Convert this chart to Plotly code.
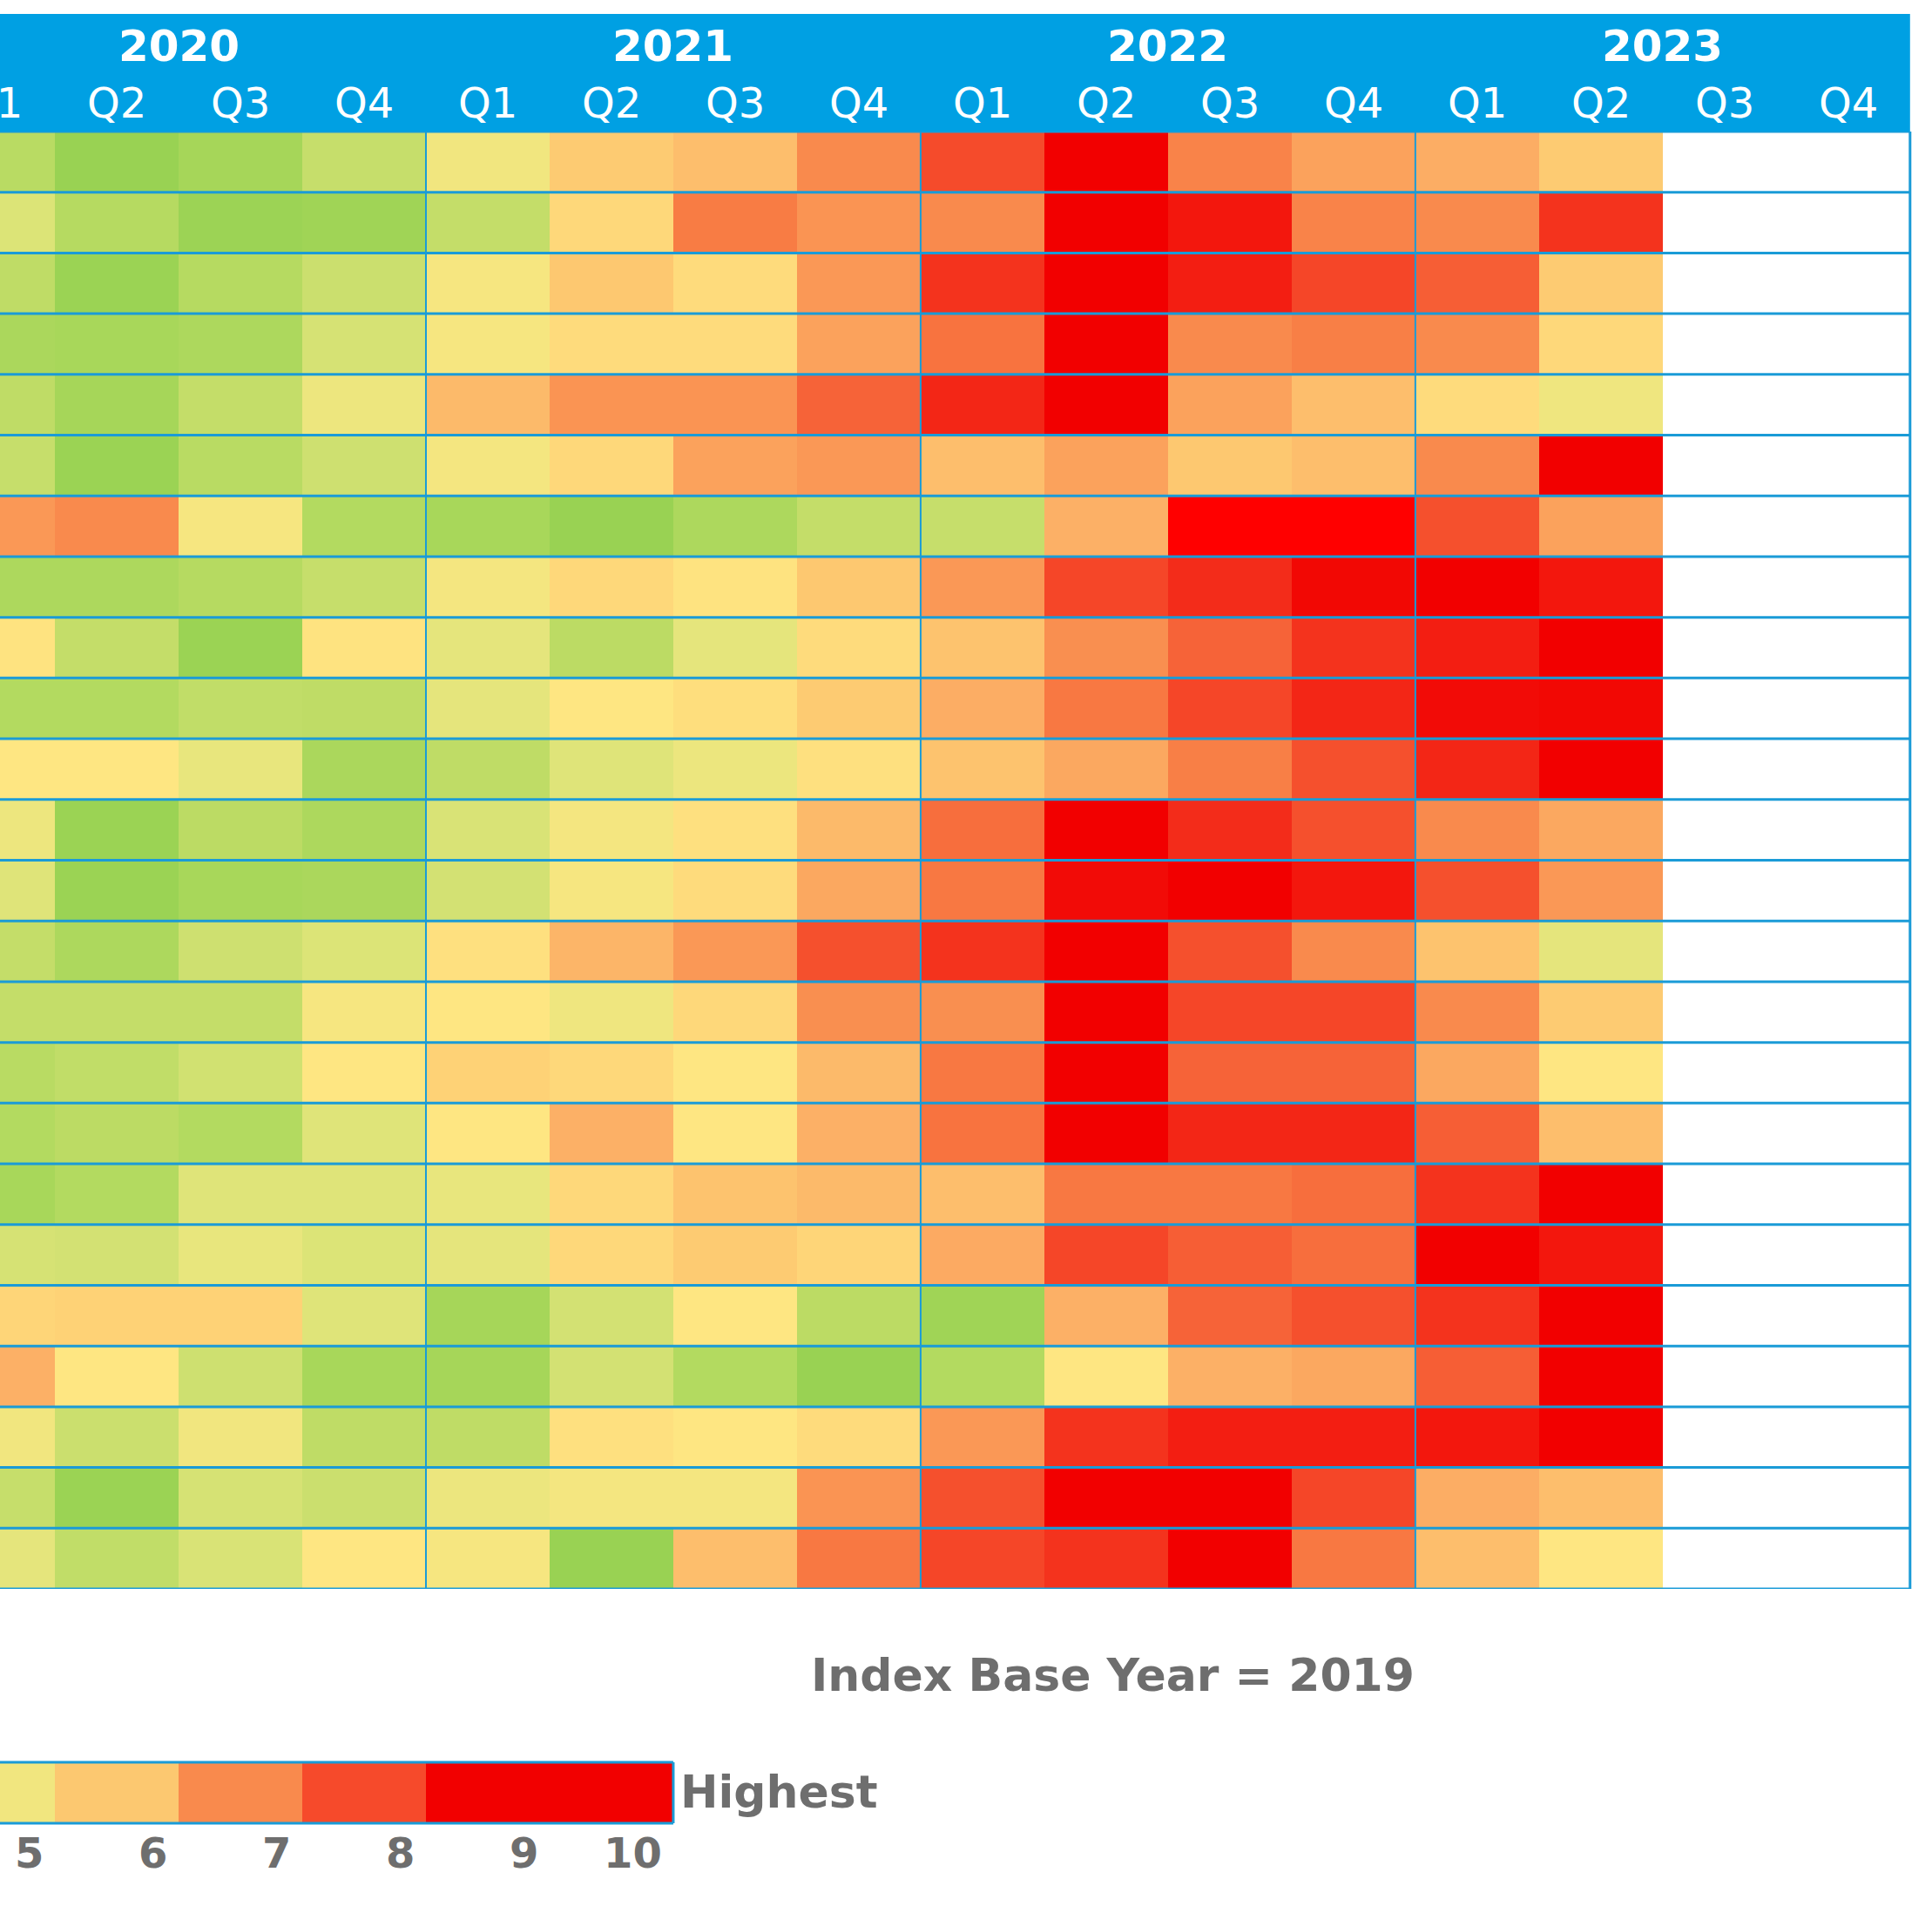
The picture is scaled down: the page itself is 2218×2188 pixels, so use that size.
import plotly.graph_objects as go

years = ["2020", "2021", "2022", "2023"]
quarters = ["Q1", "Q2", "Q3", "Q4"] * 4
col_idx = list(range(16))
row_idx = list(range(24))

# Scores per row (2020 Q1 ... 2023 Q2); 2023 Q3/Q4 not yet available
rows = [
    [2.3, 1.2, 1.6, 2.8, 4.5, 5.9, 6.2, 7.5, 8.9, 10, 7.7, 7.0, 6.6, 5.9],
    [3.6, 2.2, 1.3, 1.4, 2.7, 5.5, 7.9, 7.3, 7.5, 10, 9.7, 7.7, 7.5, 9.3],
    [2.5, 1.25, 2.2, 3.0, 4.7, 6.0, 5.4, 7.2, 9.3, 10, 9.6, 9.0, 8.5, 5.9],
    [1.8, 1.7, 1.9, 3.4, 4.7, 5.4, 5.4, 7.0, 8.1, 10, 7.5, 7.8, 7.5, 5.5],
    [2.5, 1.6, 2.7, 4.3, 6.3, 7.3, 7.3, 8.4, 9.5, 10, 7.0, 6.2, 5.4, 4.4],
    [2.8, 1.25, 2.3, 3.1, 4.6, 5.5, 7.0, 7.2, 6.2, 7.0, 6.0, 6.2, 7.5, 10],
    [7.2, 7.5, 4.7, 2.1, 1.7, 1.2, 1.9, 2.7, 2.8, 6.5, 10.5, 10.5, 8.8, 7.0],
    [1.9, 1.9, 2.2, 2.8, 4.6, 5.5, 5.1, 6.0, 7.2, 9.0, 9.4, 9.9, 10, 9.7],
    [5.1, 2.7, 1.25, 5.1, 3.9, 2.4, 3.9, 5.4, 6.1, 7.4, 8.4, 9.3, 9.6, 10],
    [2.1, 2.1, 2.6, 2.5, 3.9, 5.0, 5.3, 5.9, 6.6, 8.0, 9.0, 9.5, 9.85, 9.9],
    [5.0, 5.0, 4.0, 1.8, 2.5, 3.7, 4.2, 5.2, 6.1, 6.8, 7.8, 8.8, 9.5, 10],
    [4.3, 1.25, 2.4, 1.9, 3.5, 4.6, 5.2, 6.3, 8.2, 10, 9.4, 8.8, 7.5, 6.8],
    [3.7, 1.25, 1.7, 1.8, 3.3, 4.7, 5.4, 6.8, 8.0, 9.85, 10, 9.7, 8.8, 7.2],
    [2.7, 1.9, 3.1, 3.6, 5.2, 6.4, 7.2, 8.8, 9.3, 10, 8.8, 7.5, 6.1, 3.9],
    [2.7, 2.7, 2.7, 4.7, 5.0, 4.4, 5.5, 7.4, 7.4, 10, 9.0, 9.0, 7.5, 5.9],
    [2.3, 2.6, 3.2, 5.0, 5.7, 5.5, 5.0, 6.3, 8.0, 10, 8.4, 8.4, 6.8, 5.0],
    [2.1, 2.4, 2.1, 3.7, 5.0, 6.5, 5.0, 6.5, 8.1, 10, 9.5, 9.5, 8.5, 6.2],
    [1.7, 2.1, 3.7, 3.7, 4.0, 5.5, 6.1, 6.3, 6.2, 8.0, 8.0, 8.2, 9.3, 10],
    [3.4, 3.3, 4.0, 3.6, 3.9, 5.5, 5.9, 5.6, 6.7, 9.0, 8.5, 8.2, 10, 9.7],
    [5.6, 5.7, 5.7, 3.7, 1.6, 3.3, 5.0, 2.4, 1.4, 6.5, 8.4, 8.8, 9.3, 10],
    [6.5, 5.0, 3.1, 1.7, 1.6, 3.3, 2.1, 1.2, 2.1, 5.0, 6.5, 6.8, 8.5, 10],
    [4.5, 3.0, 4.5, 2.5, 2.5, 5.2, 5.0, 5.4, 7.2, 9.3, 9.6, 9.6, 9.7, 10],
    [2.8, 1.25, 3.4, 3.0, 4.2, 4.6, 4.6, 7.3, 8.8, 10, 10, 9.0, 6.6, 6.2],
    [3.9, 2.6, 3.5, 5.0, 4.7, 1.2, 6.2, 8.0, 9.0, 9.3, 10, 8.0, 6.2, 5.0],
]
z = [r + [None, None] for r in rows]

# colour scale of the cells (value -> colour)
scale_vals = [1.0, 1.5, 2.0, 2.5, 3.0, 3.5, 4.0, 4.5, 5.0, 5.5, 6.0, 6.5,
              7.0, 7.5, 8.0, 8.5, 9.0, 9.5, 10.0, 10.5]
scale_cols = ["#92D050", "#A3D558", "#B0D95E", "#BFDC66", "#CBDF6E", "#D9E376",
              "#E8E67D", "#F1E67F", "#FEE682", "#FED87A", "#FDC870", "#FCB066",
              "#FBA25C", "#F98A4D", "#F87842", "#F65E35", "#F54628", "#F32616",
              "#F20000", "#FF0000"]
zmin, zmax = scale_vals[0], scale_vals[-1]
colorscale = [[(v - zmin) / (zmax - zmin), c] for v, c in zip(scale_vals, scale_cols)]

# legend key
legend_vals = [1, 2, 3, 4, 5, 6, 7, 8, 9, 10]
legend_cols = ["#92D050", "#B0D95E", "#CBDF6E", "#E1E47A", "#F1E67F",
               "#FCC870", "#F98A4D", "#F64A2B", "#F20000", "#F20000"]
legend_scale = [[(v - 1) / 9, c] for v, c in zip(legend_vals, legend_cols)]

LINE = "#1A9BD7"
HEAD = "#00A0E3"
GRAY = "#6E6E6E"
FONT = "DejaVu Sans"

W, H = 2218, 2188
mt, mb, ml, mr = 151, 0, 0, 11
ph = H - mt - mb
x0 = 0.056
x1 = 15.6

fig = go.Figure()
fig.add_trace(go.Heatmap(z=z, x=col_idx, y=row_idx, colorscale=colorscale,
                         zmin=zmin, zmax=zmax, showscale=False,
                         hoverinfo="skip", xaxis="x", yaxis="y"))
fig.add_trace(go.Heatmap(z=[legend_vals], x=legend_vals, y=[0], colorscale=legend_scale,
                         zmin=1, zmax=10, showscale=False, hoverinfo="skip",
                         xaxis="x2", yaxis="y2"))

main_bottom = (H - 1824) / ph
leg_y0 = (H - 2093) / ph
leg_y1 = (H - 2023) / ph


def px(xv):
    return (xv - x0) / (x1 - x0)


shapes = []
# header band
shapes.append(dict(type="rect", xref="x", yref="paper", x0=-1, x1=15.5,
                   y0=1, y1=1 + (mt - 16) / ph, fillcolor=HEAD, line=dict(width=0),
                   layer="above"))
# horizontal row lines
for k in range(25):
    shapes.append(dict(type="line", xref="x", yref="y", x0=-1, x1=15.5,
                       y0=k - 0.5, y1=k - 0.5, line=dict(color=LINE, width=3),
                       layer="above"))
# vertical year lines + right border
for xv in [3.5, 7.5, 11.5, 15.5]:
    shapes.append(dict(type="line", xref="x", yref="y", x0=xv, x1=xv,
                       y0=-0.5, y1=23.5, line=dict(color=LINE, width=2 if xv < 15 else 3),
                       layer="above"))
# legend key border
for yy in [leg_y0, leg_y1]:
    shapes.append(dict(type="line", xref="x2", yref="paper", x0=0, x1=10.5,
                       y0=yy, y1=yy, line=dict(color=LINE, width=3), layer="above"))
shapes.append(dict(type="line", xref="x2", yref="paper", x0=10.5, x1=10.5,
                   y0=leg_y0, y1=leg_y1, line=dict(color=LINE, width=3), layer="above"))

ann = []
for i, yr in enumerate(years):
    ann.append(dict(x=px(4 * i + 1.5), y=1 + (mt - 53) / ph, xref="paper", yref="paper",
                    text="<b>%s</b>" % yr, showarrow=False, xanchor="center",
                    yanchor="middle", font=dict(family=FONT, size=50, color="white")))
for c, q in zip(col_idx, quarters):
    ann.append(dict(x=px(c), y=1 + (mt - 118) / ph, xref="paper", yref="paper", text=q,
                    showarrow=False, xanchor="center", yanchor="middle",
                    font=dict(family=FONT, size=48, color="white")))
ann.append(dict(x=9.05, y=(H - 1923) / ph, xref="x", yref="paper",
                text="<b>Index Base Year = 2019</b>", showarrow=False,
                xanchor="center", yanchor="middle",
                font=dict(family=FONT, size=52, color=GRAY)))
ann.append(dict(x=10.5, y=(H - 2057) / ph, xref="x2", yref="paper", text="<b>Highest</b>",
                showarrow=False, xanchor="left", yanchor="middle", xshift=6,
                font=dict(family=FONT, size=52, color=GRAY)))
for v in legend_vals:
    ann.append(dict(x=px(v - 5 + 0.42), y=(H - 2127) / ph, xref="paper", yref="paper",
                    text="<b>%d</b>" % v, showarrow=False, xanchor="right",
                    yanchor="middle", font=dict(family=FONT, size=48, color=GRAY)))

hidden = dict(showgrid=False, zeroline=False, showticklabels=False, ticks="",
              showline=False)
fig.update_layout(
    width=W, height=H,
    margin=dict(l=ml, r=mr, t=mt, b=mb, pad=0),
    paper_bgcolor="white", plot_bgcolor="white",
    xaxis=dict(range=[x0, x1], domain=[0, 1], anchor="y", **hidden),
    yaxis=dict(range=[23.5, -0.5], domain=[main_bottom, 1], anchor="x", **hidden),
    xaxis2=dict(range=[x0 + 5, x1 + 5], domain=[0, 1], anchor="y2", **hidden),
    yaxis2=dict(range=[-0.5, 0.5], domain=[leg_y0, leg_y1], anchor="x2", **hidden),
    shapes=shapes, annotations=ann, showlegend=False,
)

fig.write_html("out.html", config={"displayModeBar": False},
               post_script="document.body.style.margin='0';document.body.style.overflow='hidden';")
